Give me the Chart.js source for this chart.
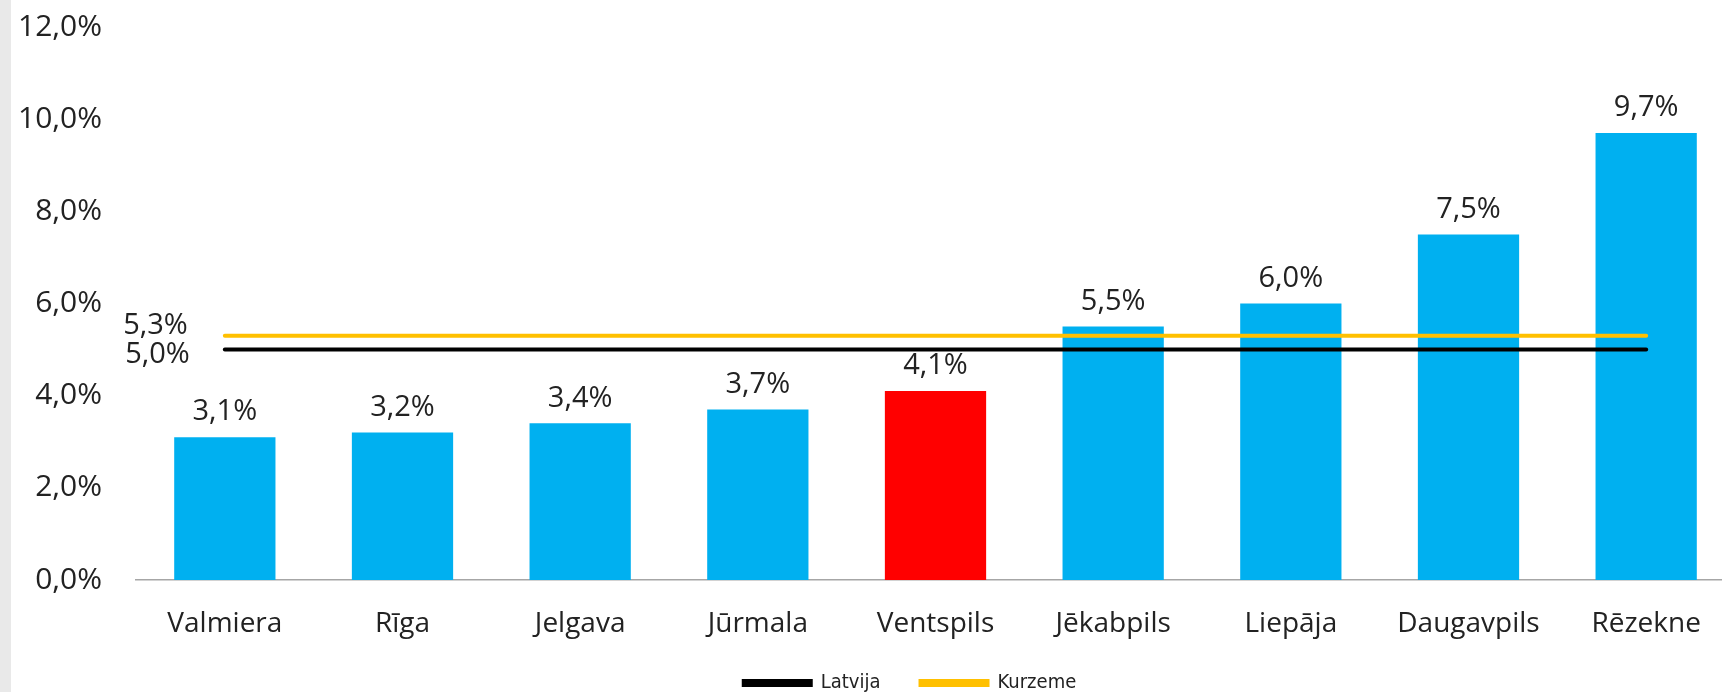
<!DOCTYPE html>
<html><head><meta charset="utf-8">
<script src="https://cdn.jsdelivr.net/npm/chart.js@4.4.1/dist/chart.umd.min.js"></script>
<style>
html,body{margin:0;padding:0;background:#fff;overflow:hidden;width:1722px;height:692px;}
#wrap{position:relative;width:1722px;height:692px;overflow:hidden;background:#fff;}
#strip{position:absolute;left:0;top:0;width:11px;height:692px;background:#e9e9e9;}
canvas{position:absolute;left:0;top:0;}
</style></head><body>
<div id="wrap"><canvas id="c" width="1820" height="703"></canvas><div id="strip"></div></div>
<script>
const categories = ['Valmiera','Rīga','Jelgava','Jūrmala','Ventspils','Jēkabpils','Liepāja','Daugavpils','Rēzekne'];
const cityValues = [3.1, 3.2, 3.4, 3.7, 4.1, 5.5, 6.0, 7.5, 9.7];
const highlightCity = 'Ventspils';
const latvija = [5.0, 5.0, 5.0, 5.0, 5.0, 5.0, 5.0, 5.0, 5.0];
const kurzeme = [5.3, 5.3, 5.3, 5.3, 5.3, 5.3, 5.3, 5.3, 5.3];
const seriesNames = ['Latvija', 'Kurzeme'];
const yTicks = [0, 2, 4, 6, 8, 10, 12];

const BLUE = '#00B0F0', RED = '#FF0000', BLACK = '#000000', GOLD = '#FFC000';
const TXT = '#222222';
const FONT = '"Open Sans", "Liberation Sans", sans-serif';
const fmt = v => v.toFixed(1).replace('.', ',') + '%';

const labelPlugin = {
  id: 'valueLabels',
  afterDatasetsDraw(chart) {
    const ctx = chart.ctx;
    ctx.save();
    ctx.font = '29px ' + FONT;
    ctx.fillStyle = TXT;
    ctx.textAlign = 'center';
    ctx.textBaseline = 'middle';
    const meta = chart.getDatasetMeta(2);
    meta.data.forEach((bar, i) => {
      ctx.fillText(fmt(cityValues[i]), bar.x, bar.y - 25);
    });
    const ys = chart.scales.y, xs = chart.scales.x;
    const x0 = xs.getPixelForValue(0);
    ctx.textAlign = 'right';
    ctx.fillText(fmt(kurzeme[0]), x0 - 37, ys.getPixelForValue(kurzeme[0]) - 10);
    ctx.fillText(fmt(latvija[0]), x0 - 35, ys.getPixelForValue(latvija[0]) + 5);
    ctx.restore();
  }
};

function build() {
  new Chart(document.getElementById('c'), {
    data: {
      labels: categories,
      datasets: [
        { type: 'line', label: seriesNames[0], data: latvija, borderColor: BLACK, backgroundColor: BLACK,
          borderWidth: 4, pointRadius: 0, borderCapStyle: 'round', order: 0 },
        { type: 'line', label: seriesNames[1], data: kurzeme, borderColor: GOLD, backgroundColor: GOLD,
          borderWidth: 4, pointRadius: 0, borderCapStyle: 'round', order: 0 },
        { type: 'bar', label: 'Pilsētas', data: cityValues,
          backgroundColor: categories.map(c => c === highlightCity ? RED : BLUE),
          barPercentage: 0.57, categoryPercentage: 1, order: 1 }
      ]
    },
    options: {
      responsive: false,
      devicePixelRatio: 1,
      animation: false,
      layout: { padding: { top: 27, left: 0, right: 0, bottom: 0 } },
      plugins: {
        tooltip: { enabled: false },
        legend: {
          position: 'bottom',
          labels: {
            filter: item => seriesNames.includes(item.text),
            boxWidth: 67, boxHeight: 4, padding: 40,
            color: TXT,
            font: { family: '"DejaVu Sans Condensed", "DejaVu Sans", sans-serif', size: 20 }
          }
        }
      },
      scales: {
        x: {
          offset: true,
          grid: { display: false, drawTicks: false },
          border: { display: true, color: '#a6a6a6', width: 1.5 },
          ticks: { color: TXT, mirror: true, padding: -61, font: { family: FONT, size: 28 }, maxRotation: 0, autoSkip: false },
          afterFit: s => { s.height = 53; }
        },
        y: {
          min: 0, max: 12,
          grid: { display: false, drawTicks: true, tickLength: 34 },
          border: { display: false },
          afterBuildTicks: s => { s.ticks = yTicks.map(v => ({ value: v })); },
          ticks: { color: TXT, padding: 0, font: { family: FONT, size: 30 }, callback: v => fmt(v) },
          afterFit: s => { s.width = 136; }
        },
        yR: {
          position: 'right',
          grid: { display: false, drawTicks: false },
          border: { display: false },
          ticks: { display: false },
          afterFit: s => { s.width = 85; }
        }
      }
    },
    plugins: [labelPlugin]
  });
}
Promise.all([
  document.fonts.load('29px "Open Sans"'),
  document.fonts.load('20px "DejaVu Sans Condensed"'),
  document.fonts.load('20px "DejaVu Sans"')
]).then(build, build);
</script>
</body></html>
